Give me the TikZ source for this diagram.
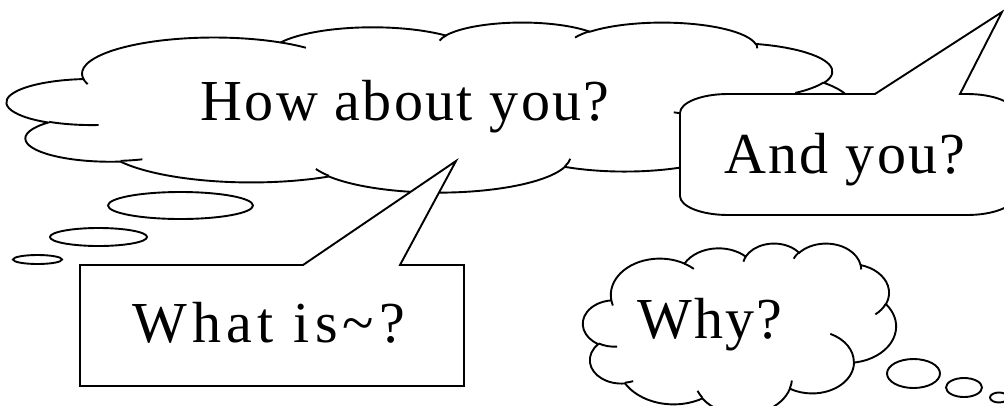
\documentclass[tikz,border=0pt]{standalone}
\usepackage{fontspec}
\setmainfont{Liberation Serif}[LetterSpace=4]

\tikzset{
  puff/.code args={#1/#2/#3/#4}{%
    \pgfmathsetmacro\puffstart{atan2(#1*sin(#3),#2*cos(#3))}%
    \pgfmathsetmacro\puffend{atan2(#1*sin(#3+#4),#2*cos(#3+#4))}%
    \pgfmathsetmacro\puffdelta{mod(\puffend-\puffstart+720,360)}%
    \pgfkeysalso{start angle=\puffstart,delta angle=\puffdelta,x radius=#1,y radius=#2}}
}
\newcommand\cloudoutline{(39,143.70)
  arc[puff=67.53/91.90/-190.4875/123.7805]
  arc[puff=53.33/72.67/-144.1024/89.9452]
  arc[puff=43.65/59.45/-145.8079/99.7230]
  arc[puff=48.57/65.95/-130.9861/117.2417]
  arc[puff=53.33/72.73/-78.7089/109.0269]
  arc[puff=67.75/92.20/-46.2673/130.2690]
  arc[puff=57.85/78.67/0.6250/114.0333]
  arc[puff=67.52/92.15/22.4516/115.1726]
  arc[puff=77.20/105.43/66.2426/75.7110]
  arc[puff=43.60/59.18/-274.9421/146.7356]
  arc[puff=43.45/59.45/-246.8285/152.5189] -- cycle}
\newcommand\cloudhooks{
  (46.93,261.77) arc[puff=43.45/59.45/86.7420/26.4295]
  (69.28,348.99) arc[puff=43.60/59.18/73.6105/11.4475]
  (164.78,390.90) arc[puff=67.52/92.15/137.6242/14.0811]
  (288.27,347.51) arc[puff=67.52/92.15/6.4533/15.9984]
  (341.29,229.54) arc[puff=57.85/78.67/-70.2924/70.9174]
  (417.98,153.54) arc[puff=53.33/72.73/30.3180/27.7515]
  (383.24,54.26) arc[puff=48.57/65.95/-13.7443/14.8589]
  (290.78,39.52) arc[puff=48.57/65.95/-149.1815/18.1954]
  (221.41,47.20) arc[puff=43.65/59.45/-163.4943/17.6864]
  (140.00,51.92) arc[puff=67.53/91.90/-66.7070/12.3194]
  (41.27,157.89) arc[puff=67.53/91.90/157.6543/11.8582]}

\begin{document}
\begin{tikzpicture}[x=1pt,y=-1pt,line width=1.9pt,
  balloon/.style={draw,fill=white},
  words/.style={anchor=base,inner sep=0pt,font=\fontsize{58}{60}\selectfont}]
\useasboundingbox (0,0) rectangle (1004,405);
\begin{scope}[shift={(7,22)},xscale=844/432,yscale=170/432]
\draw[balloon] \cloudoutline;
\draw \cloudhooks;
\end{scope}
\draw (180.5,205.5) ellipse[x radius=72.5,y radius=13.5];
\draw (98.5,237) ellipse[x radius=48.5,y radius=9];
\draw (37.5,259.5) ellipse[x radius=24.5,y radius=4.5];
\node[words] (how) at (405,120) {How about you?};
\begin{scope}[shift={(583,243)},xscale=313/432,yscale=171/432]
\draw[balloon] \cloudoutline;
\draw \cloudhooks;
\end{scope}
\draw (913.5,373.5) ellipse[x radius=26.5,y radius=14.5];
\draw (964,387.5) ellipse[x radius=18,y radius=9.5];
\draw (999,397.5) ellipse[x radius=9,y radius=5];
\node[words] (why) at (710,338) {Why?};
\draw[balloon] (80,265) -- (303,265) -- (456,161) -- (400,265) -- (464,265) -- (464,386) -- (80,386) -- cycle;
\node[words] (what) at (269,342) {\addfontfeature{LetterSpace=9}What is\textasciitilde?};
\draw[balloon] (728,94) -- (875,94) -- (1002,12) -- (960,94) -- (967,94)
  arc[start angle=-90,end angle=0,x radius=48,y radius=19] -- (1015,196)
  arc[start angle=0,end angle=90,x radius=48,y radius=19] -- (728,215)
  arc[start angle=90,end angle=180,x radius=48,y radius=19] -- (680,113)
  arc[start angle=180,end angle=270,x radius=48,y radius=19] -- cycle;
\node[words] (and) at (845,173) {And you?};
\end{tikzpicture}
\end{document}
